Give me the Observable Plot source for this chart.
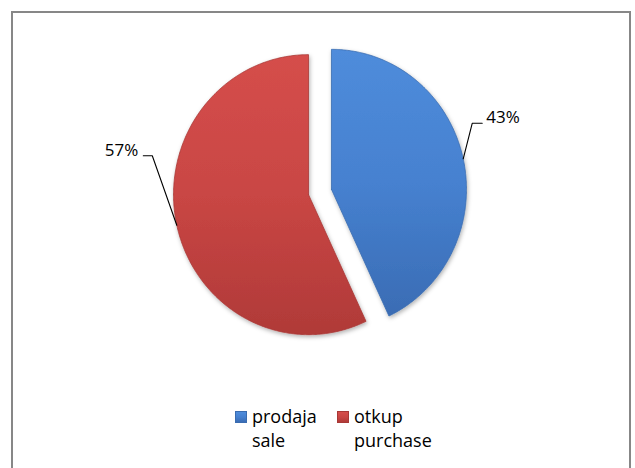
<!DOCTYPE html>
<html><head><meta charset="utf-8">
<script src="https://cdn.jsdelivr.net/npm/d3@7"></script>
<script src="https://cdn.jsdelivr.net/npm/@observablehq/plot@0.6"></script>
<style>
body{margin:0;background:#fff;font-family:"Open Sans",sans-serif;width:635px;height:468px;overflow:hidden;position:relative;}
#frame{position:absolute;left:11px;top:11px;width:616px;height:480px;border:2px solid #878787;border-bottom:none;}
#chart{position:absolute;left:0;top:0;}
#legend{position:absolute;left:0;top:0;font-size:18px;color:#000;}
.item{position:absolute;line-height:24px;}
.sw{position:absolute;width:12px;height:12px;box-sizing:border-box;}
</style></head>
<body>
<div id="frame"></div>
<div id="chart"></div>
<div id="legend"></div>
<script>
// ---- data ----
const categories = ["prodaja", "otkup"];
const categoriesEn = ["sale", "purchase"];
const values = [43, 57];
const valueLabels = ["43%", "57%"];

// ---- styles / layout ----
const gradIds = ["gBlue", "gRed"];
const baseColors = ["#4782d0", "#c94644"];
const gradStops = [
  ["#4f8cdb", "#4681d0", "#3a6cb4"],
  ["#d54e4b", "#c94644", "#b03a38"]
];
const edgeColors = ["#3a6cb0", "#a83836"];
const W = 635, H = 400;
const cx = 319.5, cy = 191.5, rx = 135, ry = 140;
const explode = 0.087;
// leader elbow / end offsets in pixels (from arc midpoint)
const leaderOffsets = [[[9, -35.5], [19, -35.5]], [[-24.5, -69.5], [-33.5, -69.5]]];

const total = d3.sum(values);
const rad = Math.PI / 180;
let cum = 0;
const slicePts = [];
const leaderPts = [];
const labelData = [];
categories.forEach((c, i) => {
  const a0 = cum / total * 360;
  cum += values[i];
  const a1 = cum / total * 360;
  const mid = (a0 + a1) / 2;
  const vx = explode * Math.sin(mid * rad), vy = explode * Math.cos(mid * rad);
  slicePts.push({cat: c, x: vx, y: vy});
  for (let a = a0; a < a1; a += 0.5) {
    slicePts.push({cat: c, x: vx + Math.sin(a * rad), y: vy + Math.cos(a * rad)});
  }
  slicePts.push({cat: c, x: vx + Math.sin(a1 * rad), y: vy + Math.cos(a1 * rad)});
  slicePts.push({cat: c, x: vx, y: vy});
  const mx = vx + Math.sin(mid * rad), my = vy + Math.cos(mid * rad);
  leaderPts.push({cat: c, x: mx, y: my});
  leaderOffsets[i].forEach(([dx, dy]) => leaderPts.push({cat: c, x: mx + dx / rx, y: my - dy / ry}));
  const [ex, ey] = leaderOffsets[i][1];
  labelData.push({cat: c, label: valueLabels[i], x: mx + ex / rx, y: my - ey / ry, side: Math.sin(mid * rad) >= 0 ? 1 : -1});
});

const marks = categories.map((c, i) =>
  Plot.line(slicePts.filter(d => d.cat === c), {
    x: "x", y: "y", z: "cat", fill: baseColors[i], stroke: edgeColors[i], strokeWidth: 0.8,
    curve: "linear"
  })
);
marks.push(Plot.line(leaderPts, {x: "x", y: "y", z: "cat", stroke: "#000", strokeWidth: 1.1, curve: "linear"}));
marks.push(Plot.text(labelData.filter(d => d.side > 0), {x: "x", y: "y", text: "label", textAnchor: "start", dx: 4, dy: -6, fontSize: 17, fill: "#000"}));
marks.push(Plot.text(labelData.filter(d => d.side < 0), {x: "x", y: "y", text: "label", textAnchor: "end", dx: -5, dy: -5, fontSize: 17, fill: "#000"}));

const plot = Plot.plot({
  width: W, height: H,
  margin: 0,
  style: {background: "none", fontFamily: "'Open Sans', sans-serif", overflow: "visible"},
  x: {domain: [-1, 1], range: [cx - rx, cx + rx], axis: null},
  y: {domain: [-1, 1], range: [cy + ry, cy - ry], axis: null},
  marks
});

// gradients and shadow
const ns = "http://www.w3.org/2000/svg";
const defs = document.createElementNS(ns, "defs");
gradIds.forEach((id, i) => {
  const g = document.createElementNS(ns, "linearGradient");
  g.setAttribute("id", id);
  g.setAttribute("x1", "0"); g.setAttribute("y1", "0");
  g.setAttribute("x2", "0"); g.setAttribute("y2", "1");
  gradStops[i].forEach((col, k) => {
    const s = document.createElementNS(ns, "stop");
    s.setAttribute("offset", String(k / (gradStops[i].length - 1)));
    s.setAttribute("stop-color", col);
    g.appendChild(s);
  });
  defs.appendChild(g);
});
const f = document.createElementNS(ns, "filter");
f.setAttribute("id", "shadow");
f.setAttribute("x", "-20%"); f.setAttribute("y", "-20%");
f.setAttribute("width", "140%"); f.setAttribute("height", "140%");
const ds = document.createElementNS(ns, "feDropShadow");
ds.setAttribute("dx", "1"); ds.setAttribute("dy", "2");
ds.setAttribute("stdDeviation", "2"); ds.setAttribute("flood-opacity", "0.3");
f.appendChild(ds);
defs.appendChild(f);
plot.insertBefore(defs, plot.firstChild);
const lineGroups = plot.querySelectorAll('g[aria-label="line"]');
categories.forEach((c, i) => {
  const g = lineGroups[i];
  if (g) {
    g.setAttribute("filter", "url(#shadow)");
    g.setAttribute("fill", `url(#${gradIds[i]})`);
    g.querySelectorAll("path").forEach(p => { if (p.getAttribute("fill")) p.setAttribute("fill", `url(#${gradIds[i]})`); });
  }
});
document.getElementById("chart").appendChild(plot);

// legend
const legend = document.getElementById("legend");
const legendX = [235, 337];
categories.forEach((c, i) => {
  const sw = document.createElement("div");
  sw.className = "sw";
  sw.style.left = legendX[i] + "px";
  sw.style.top = "411px";
  sw.style.background = `linear-gradient(${gradStops[i][0]}, ${gradStops[i][1]} 50%, ${gradStops[i][2]})`;
  sw.style.border = `1px solid ${edgeColors[i]}`;
  legend.appendChild(sw);
  const t = document.createElement("div");
  t.className = "item";
  t.style.left = (legendX[i] + 17) + "px";
  t.style.top = "404px";
  t.innerHTML = c + "<br>" + categoriesEn[i];
  legend.appendChild(t);
});
</script>
</body></html>
